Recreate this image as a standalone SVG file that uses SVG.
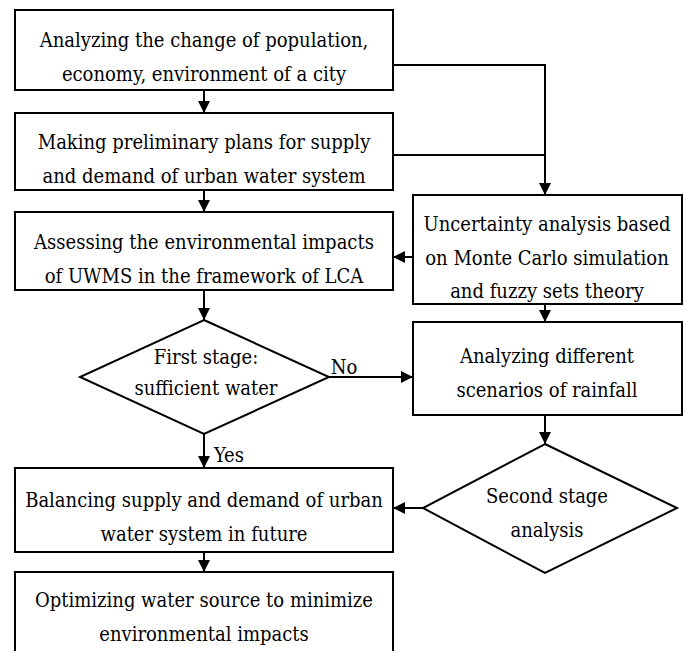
<svg xmlns="http://www.w3.org/2000/svg" width="686" height="651" viewBox="0 0 686 651">
<defs>
<marker id="ah" viewBox="0 0 12 12" refX="12" refY="6" markerWidth="12" markerHeight="12" markerUnits="userSpaceOnUse" orient="auto">
<path d="M0,0 L12,6 L0,12 z" fill="#000"/>
</marker>
<style>
.b{fill:#fff;stroke:#000;stroke-width:2}
.t{font-family:'DejaVu Serif Condensed','DejaVu Serif',serif;font-size:20px;fill:#000;text-anchor:middle}
.c{fill:none;stroke:#000;stroke-width:2}
</style>
</defs>
<rect width="686" height="651" fill="#fff"/>
<g id="connectors">
<path class="c" d="M204,90 V113" marker-end="url(#ah)"/>
<path class="c" d="M393,65 H545 V195" marker-end="url(#ah)"/>
<path class="c" d="M393,155 H545"/>
<path class="c" d="M204,190 V212" marker-end="url(#ah)"/>
<path class="c" d="M413,257 H393" marker-end="url(#ah)"/>
<path class="c" d="M204,290 V320" marker-end="url(#ah)"/>
<path class="c" d="M545,304 V322" marker-end="url(#ah)"/>
<path class="c" d="M329,377 H413" marker-end="url(#ah)"/>
<text class="t" x="344" y="374">No</text>
<path class="c" d="M204,434 V468" marker-end="url(#ah)"/>
<text class="t" x="229" y="462">Yes</text>
<path class="c" d="M545,415 V444" marker-end="url(#ah)"/>
<path class="c" d="M423,508 H393" marker-end="url(#ah)"/>
<path class="c" d="M204,552 V572" marker-end="url(#ah)"/>
</g>
<g id="n1"><rect class="b" x="15" y="10" width="378" height="80"/>
<text class="t" x="204" y="47">Analyzing the change of population,</text>
<text class="t" x="204" y="81">economy, environment of a city</text></g>
<g id="n2"><rect class="b" x="15" y="113" width="378" height="77"/>
<text class="t" x="204" y="149">Making preliminary plans for supply</text>
<text class="t" x="204" y="183">and demand of urban water system</text></g>
<g id="n3"><rect class="b" x="15" y="212" width="378" height="78"/>
<text class="t" x="204" y="249">Assessing the environmental impacts</text>
<text class="t" x="204" y="283">of UWMS in the framework of LCA</text></g>
<g id="n4"><rect class="b" x="413" y="195" width="269" height="109"/>
<text class="t" x="547" y="231">Uncertainty analysis based</text>
<text class="t" x="547" y="265">on Monte Carlo simulation</text>
<text class="t" x="547" y="298">and fuzzy sets theory</text></g>
<g id="n5"><polygon class="b" points="204,320 329,377 204,434 80,377"/>
<text class="t" x="206" y="364">First stage:</text>
<text class="t" x="206" y="395">sufficient water</text></g>
<g id="n6"><rect class="b" x="413" y="322" width="269" height="93"/>
<text class="t" x="547" y="363">Analyzing different</text>
<text class="t" x="547" y="397">scenarios of rainfall</text></g>
<g id="n7"><rect class="b" x="15" y="468" width="378" height="84"/>
<text class="t" x="204" y="507">Balancing supply and demand of urban</text>
<text class="t" x="204" y="541">water system in future</text></g>
<g id="n8"><polygon class="b" points="545,444 677,508 545,573 423,508"/>
<text class="t" x="547" y="503">Second stage</text>
<text class="t" x="547" y="537">analysis</text></g>
<g id="n9"><rect class="b" x="15" y="572" width="378" height="85"/>
<text class="t" x="204" y="607">Optimizing water source to minimize</text>
<text class="t" x="204" y="641">environmental impacts</text></g>
</svg>
